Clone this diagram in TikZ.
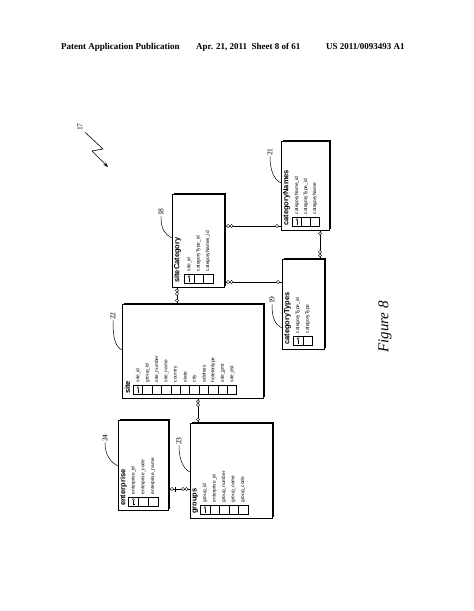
\documentclass[tikz,border=0pt]{standalone}
\usepackage{fontspec}
\setmainfont{Liberation Sans}
\newfontfamily\serifrm{Liberation Serif}
\usetikzlibrary{calc,arrows.meta}
\tikzset{
  tbl/.style={draw, line width=0.7pt, rectangle, inner sep=0pt},
  shadowline/.style={line width=0.6pt},
  ttl/.style={rotate=90, anchor=west, inner sep=0pt, font=\bfseries\fontsize{7.5}{7.5}\selectfont},
  fld/.style={rotate=90, anchor=west, inner sep=0pt, font=\fontsize{4.8}{5}\selectfont},
  keyb/.style={draw, line width=0.45pt},
  lbl/.style={rotate=90, inner sep=0.5pt, font=\serifrm\fontsize{7.5}{7.5}\selectfont},
  lead/.style={line width=0.5pt},
  rel/.style={line width=0.5pt},
  ring/.style={draw, fill=white, line width=0.4pt},
  hdr/.style={anchor=base west, inner sep=0pt, font=\serifrm\bfseries\fontsize{9}{9}\selectfont},
}
% name, L, T, R, B, title, first field x, pitch, fields
\newcommand\erTable[9]{%
  \node[tbl, anchor=north west, minimum width={#4-#2}, minimum height={#5-#3}] (#1) at (#2,#3) {};
  \draw[shadowline] (#2+1.5,#3-1.2) -- (#4+1.2,#3-1.2) -- (#4+1.2,#5-1.5);
  \node[ttl] (#1-t) at (#2+5.5,#5-4) {#6};
  \foreach \f [count=\i from 0] in {#9} {
    \node[fld] (#1-f\i) at ({#7+#8*\i}, #5-15.5) {\f};
    \draw[keyb] ({#7+#8*\i-#8/2}, #5-4) rectangle ++(#8,-9);
  }
  \draw[line width=0.35pt] (#7,#5-10.3) circle (1pt);
  \draw[line width=0.35pt] (#7,#5-9.3) -- (#7,#5-5.8) -- (#7+1.2,#5-5.8);
}
\begin{document}
\begin{tikzpicture}[x=1pt,y=-1pt]
\useasboundingbox (0,0) rectangle (474,611);
\fill[white] (0,0) rectangle (474,611);

% header
\node[hdr] (h1) at (61,49) {Patent Application Publication};
\node[hdr] (h2) at (196,49) {Apr. 21, 2011\ \ Sheet 8 of 61};
\node[hdr] (h3) at (326,49) {US 2011/0093493 A1};

% tables
\erTable{cn}{281}{141}{329}{230}{categoryNames}{297}{9}{categoryName\_id,categoryType\_id,categoryName}
\erTable{sc}{172}{194}{224}{287}{siteCategory}{189}{9.5}{site\_id,categoryType\_id,categoryNames\_id}
\erTable{ct}{282}{259}{324}{349}{categoryTypes}{298}{9.8}{categoryType\_id,categoryType}
\erTable{site}{122}{304}{263}{398}{site}{138}{9.4}{site\_id,group\_id,site\_number,site\_name,country,state,city,address,hotelentype,site\_gmt,site\_dst}
\erTable{ent}{118}{420}{168}{510}{enterprise}{133.5}{9.7}{enterprise\_id,enterprise\_code,enterprise\_name}
\erTable{grp}{190}{423}{272}{518}{groups}{205}{9.5}{group\_id,enterprise\_id,group\_number,group\_name,group\_code}

% reference labels
\node[lbl] (l17) at (80,127) {17};
\node[lbl] (l21) at (270,152) {21};
\node[lbl] (l18) at (161,212) {18};
\node[lbl] (l22) at (113,316) {22};
\node[lbl] (l19) at (272,300) {19};
\node[lbl] (l24) at (105,438) {24};
\node[lbl] (l23) at (179,441) {23};

\draw[lead] (l21.west) .. controls +(0,12) and +(-8,-4) .. ($(cn.north west)+(0,42)$);
\draw[lead] (l18.west) .. controls +(0,12) and +(-8,-4) .. ($(sc.north west)+(0,44)$);
\draw[lead] (l22.west) .. controls +(0,14) and +(-8,-4) .. ($(site.north west)+(0,46)$);
\draw[lead] (l19.west) .. controls +(0,12) and +(-8,-4) .. ($(ct.north west)+(0,69)$);
\draw[lead] (l24.west) .. controls +(0,12) and +(-8,-4) .. ($(ent.north west)+(0,46)$);
\draw[lead] (l23.west) .. controls +(0,12) and +(-8,-4) .. ($(grp.north west)+(0,49)$);

% figure pointer 17
\draw[line width=0.6pt, -{Stealth[length=5pt,width=3.5pt]}] ($(l17.south west)+(2,1)$) -- (103,149) -- (92,151) -- (108,167);

% relationship connectors
\coordinate (ya) at (0,226);
\coordinate (yb) at (0,282);
\coordinate (xc) at (320,0);
\coordinate (xd) at (177,0);
\coordinate (xe) at (198,0);
\coordinate (yf) at (0,489);

\draw[rel] (sc.east |- ya) -- (cn.west |- ya);
\draw[rel] (sc.east |- yb) -- (ct.west |- yb);
\draw[rel] (cn.south -| xc) -- (ct.north -| xc);
\draw[rel] (sc.south -| xd) -- (site.north -| xd);
\draw[rel] (site.south -| xe) -- (grp.north -| xe);
\draw[rel] (ent.east |- yf) -- (grp.west |- yf);

% ends
\foreach \x in {228,231.5} \filldraw[ring] (\x,226) circle (1.6pt);
\filldraw[ring] (277,226) circle (1.6pt);
\foreach \x in {228,231.5} \filldraw[ring] (\x,282) circle (1.6pt);
\filldraw[ring] (278,282) circle (1.6pt);
\filldraw[ring] (320,233.5) circle (1.6pt);
\foreach \y in {252,255.5} \filldraw[ring] (320,\y) circle (1.6pt);
\foreach \y in {290.5,294} \filldraw[ring] (177,\y) circle (1.6pt);
\filldraw[ring] (177,300.5) circle (1.6pt);
\foreach \y in {401.5,405} \filldraw[ring] (198,\y) circle (1.6pt);
\filldraw[ring] (198,419.5) circle (1.6pt);
\filldraw[ring] (172,489) circle (1.6pt);
\draw[rel] (175,486.5) -- (175,491.5);
\foreach \x in {183,186.5} \filldraw[ring] (\x,489) circle (1.6pt);

% caption
\node[rotate=90, inner sep=0pt, font=\serifrm\itshape\fontsize{15}{15}\selectfont] (fig) at (385,327) {Figure 8};
\end{tikzpicture}
\end{document}
